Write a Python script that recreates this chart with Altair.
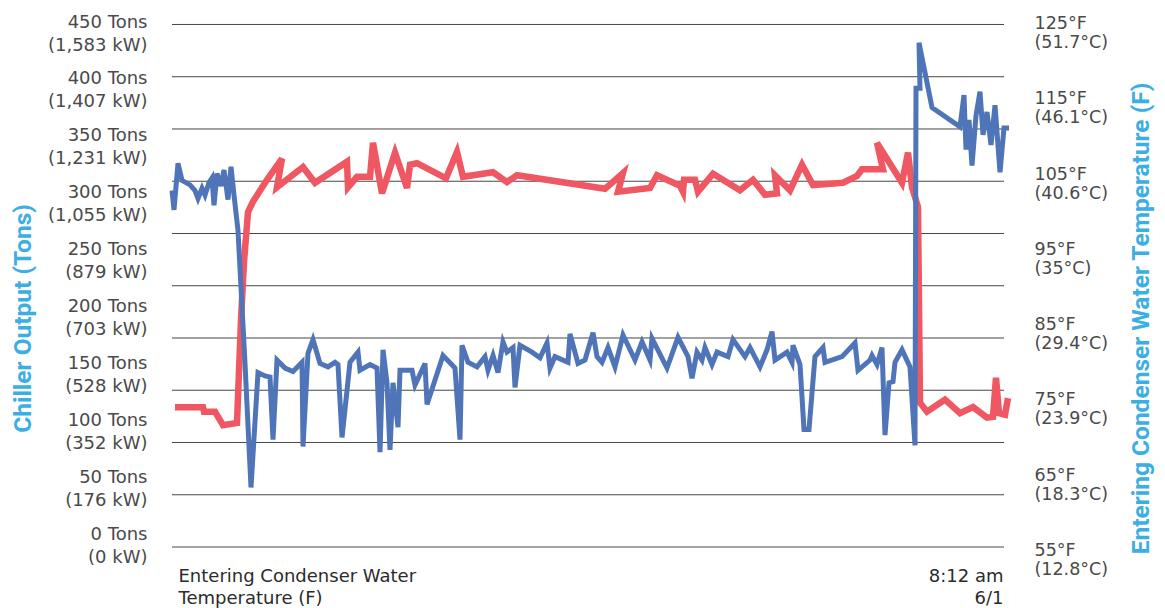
import json
import altair as alt
import pandas as pd

# ---------------- data ----------------
# Chiller output (tons) - blue line, left axis; t = sample position along the time axis
blue_t = [0, 2, 6, 10, 18, 23, 26, 30, 33, 37, 40, 42, 45, 49, 52, 56, 59, 62, 66, 73,
          79, 86, 93, 98, 101, 105, 113, 121, 130, 131, 136, 141, 148, 156, 163, 166, 170, 178, 186, 188,
          198, 205, 208, 211, 215, 218, 221, 226, 228, 240, 243, 253, 255, 271, 283, 288, 290, 296, 305, 313,
          316, 321, 326, 331, 335, 341, 343, 348, 360, 368, 375, 378, 383, 396, 398, 406, 413, 421, 425, 430,
          436, 443, 451, 463, 470, 478, 480, 495, 506, 516, 520, 525, 530, 533, 540, 545, 556, 561, 573, 578,
          588, 595, 600, 603, 615, 620, 621, 628, 632, 637, 643, 651, 653, 670, 683, 686, 698, 700, 705, 710,
          713, 717, 721, 723, 730, 738, 743, 744, 748, 747, 760, 788, 792, 794, 797, 800, 804, 808, 811, 815,
          819, 823, 828, 832, 837]
blue_tons = [312, 295, 336, 321, 317, 312, 305, 314, 308, 319, 323, 299, 327, 316, 330, 304, 333, 308, 277, 160,
             51, 152, 149, 148, 93, 163, 156, 153, 161, 87, 169, 181, 160, 157, 161, 159, 95, 161, 170, 154,
             159, 156, 82, 172, 143, 84, 143, 104, 154, 154, 141, 160, 124, 167, 156, 93, 176, 161, 157, 166,
             154, 167, 152, 179, 170, 174, 139, 176, 170, 165, 178, 156, 166, 161, 186, 160, 163, 187, 166, 161,
             174, 157, 185, 163, 179, 163, 182, 156, 183, 166, 147, 170, 163, 174, 159, 170, 166, 181, 166, 174,
             157, 172, 188, 163, 170, 161, 176, 159, 102, 102, 166, 174, 161, 166, 178, 154, 163, 167, 159, 174,
             97, 143, 144, 161, 172, 157, 88, 402, 402, 442, 385, 368, 396, 348, 374, 334, 378, 399, 361, 381,
             352, 387, 328, 367, 367]

# Entering condenser water temperature (F) - red line, right axis
red_t = [3, 31, 32, 43, 51, 65, 69, 72, 76, 81, 95, 110, 105, 131, 143, 175, 176, 185, 198, 201,
         210, 223, 235, 238, 245, 274, 285, 291, 321, 335, 345, 433, 451, 446, 478, 485, 508, 511, 512, 523,
         526, 541, 568, 581, 593, 605, 603, 618, 630, 641, 671, 685, 690, 711, 705, 730, 736, 740, 746, 748,
         755, 773, 788, 801, 815, 821, 824, 827, 833, 836]
red_degf = [75.3, 75.3, 74.7, 74.7, 72.9, 73.2, 86.9, 94.6, 101.2, 102.6, 105.5, 108.3, 104.5, 107.2, 105.1, 107.9, 104.5, 105.9, 105.9, 110.4,
            103.7, 109.1, 104.4, 107.5, 107.7, 105.7, 109.2, 105.9, 106.5, 105.2, 106.1, 104.3, 106.4, 103.9, 104.4, 106.1, 104.7, 103.9, 105.5, 105.5,
            103.9, 106.3, 104.1, 105.5, 103.5, 103.7, 106.1, 104.1, 107.5, 104.8, 105.1, 106.0, 106.9, 106.9, 110.4, 105.1, 109.1, 104.5, 101.9, 75.9,
            74.7, 76.3, 74.5, 75.3, 73.9, 74.0, 79.2, 74.5, 74.3, 76.5]

# axis ticks and labels
tons_ticks = [0, 50, 100, 150, 200, 250, 300, 350, 400, 450]
kw_labels = ["0", "176", "352", "528", "703", "879", "1,055", "1,231", "1,407", "1,583"]
degf_ticks = [55, 65, 75, 85, 95, 105, 115, 125]
degc_labels = ["12.8", "18.3", "23.9", "29.4", "35", "40.6", "46.1", "51.7"]
x_ticks = [6, 831]
x_labels = [["Entering Condenser Water", "Temperature (F)"], ["8:12 am", "6/1"]]

# decorative horizontal guide lines (11 evenly spaced levels)
grid_levels = list(range(11))
grid_span = [0, 832]

# ---------------- chart ----------------
RED = "#EF5862"
BLUE = "#4F75B8"
TITLE_BLUE = "#3BAEE4"
LABEL = "#4a4a4a"

blue_df = pd.DataFrame({"t": blue_t, "tons": blue_tons, "i": list(range(len(blue_t)))})
red_df = pd.DataFrame({"t": red_t, "degF": red_degf, "i": list(range(len(red_t)))})
grid_df = pd.DataFrame({"g": grid_levels,
                        "x0": [grid_span[0]] * len(grid_levels),
                        "x1": [grid_span[1]] * len(grid_levels)})

x_scale = alt.Scale(domain=[0, 837], nice=False, zero=False)
x_axis = alt.Axis(
    values=x_ticks,
    labelExpr=json.dumps(x_labels) + "[indexof(" + json.dumps(x_ticks) + ", datum.value)]",
    labelAlign={"condition": {"test": "datum.value < 400", "value": "left"}, "value": "right"},
    labelBaseline="top", labelPadding=5, labelFont="DejaVu Sans", labelFontSize=18,
    labelColor="#2b2b2b", labelLineHeight=22, labelFlush=False, labelOverlap=False,
    labelBound=False, labelLimit=600, domain=False, ticks=False, grid=False, title=None,
)

left_axis = alt.Axis(
    orient="left", values=tons_ticks,
    labelExpr="[datum.value + ' Tons', '(' + " + json.dumps(kw_labels) + "[indexof("
              + json.dumps(tons_ticks) + ", datum.value)] + ' kW)']",
    labelAlign="right", labelBaseline="middle", labelPadding=25, labelOffset=-11.5,
    labelFont="DejaVu Sans", labelFontSize=18, labelColor=LABEL, labelLineHeight=23,
    labelOverlap=False, labelFlush=False, labelBound=False, labelLimit=400,
    domain=False, ticks=False, grid=False,
    title="Chiller Output (Tons)", titleColor=TITLE_BLUE, titleFont="Roboto", titleFontSize=24.5,
    titleFontWeight="bold", titleAngle=270, titleX=-137, titleY=293, titleAlign="center",
    titleBaseline="bottom", titleLimit=1000,
)

right_axis = alt.Axis(
    orient="right", values=degf_ticks,
    labelExpr="[datum.value + '°F', '(' + " + json.dumps(degc_labels) + "[indexof("
              + json.dumps(degf_ticks) + ", datum.value)] + '°C)']",
    labelAlign="left", labelBaseline="middle", labelPadding=25, labelOffset=-9.5,
    labelFont="DejaVu Sans", labelFontSize=17.5, labelColor=LABEL, labelLineHeight=19,
    labelOverlap=False, labelFlush=False, labelBound=False, labelLimit=400,
    domain=False, ticks=False, grid=False,
    title="Entering Condenser Water Temperature (F)", titleColor=TITLE_BLUE, titleFont="Roboto",
    titleFontSize=24.5, titleFontWeight="bold", titleAngle=270, titleX=144, titleY=293,
    titleAlign="center", titleBaseline="bottom", titleLimit=1000,
)

grid_layer = alt.Chart(grid_df).mark_rule(color="#474747", strokeWidth=1).encode(
    x=alt.X("x0:Q", scale=x_scale, axis=x_axis),
    x2="x1:Q",
    y=alt.Y("g:Q", scale=alt.Scale(domain=[-0.287, 9.99], nice=False, zero=False), axis=None),
)

red_layer = alt.Chart(red_df).mark_line(color=RED, strokeWidth=6.5).encode(
    x=alt.X("t:Q", scale=x_scale, axis=x_axis),
    y=alt.Y("degF:Q", scale=alt.Scale(domain=[54.73, 126.06], nice=False, zero=False), axis=right_axis),
    order="i:Q",
)

blue_layer = alt.Chart(blue_df).mark_line(color=BLUE, strokeWidth=5).encode(
    x=alt.X("t:Q", scale=x_scale, axis=x_axis),
    y=alt.Y("tons:Q", scale=alt.Scale(domain=[-14.5, 457.5], nice=False, zero=False), axis=left_axis),
    order="i:Q",
)

chart = (
    alt.layer(grid_layer, red_layer, blue_layer)
    .resolve_scale(y="independent")
    .properties(
        width=837, height=537,
        autosize=alt.AutoSizeParams(type="none"),
        padding={"left": 164, "top": 17, "right": 148, "bottom": 46},
        background="white",
    )
    .configure_view(stroke=None)
)

chart.save("out.html", embed_options={"renderer": "svg", "actions": False})
